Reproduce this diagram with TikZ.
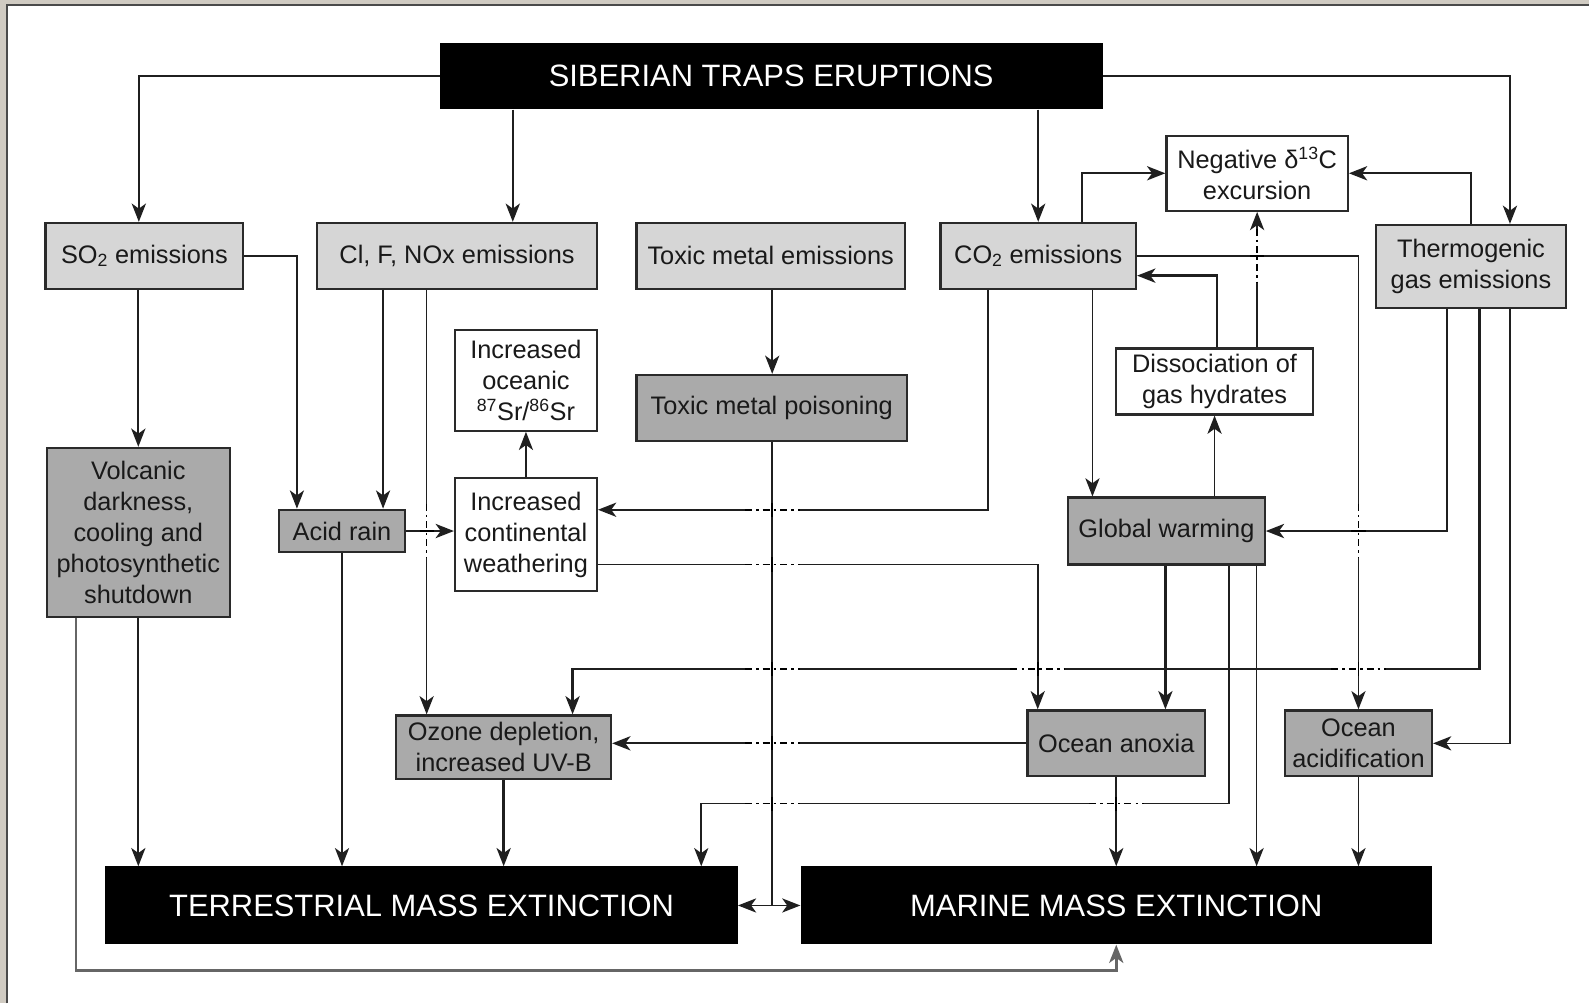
\documentclass[tikz,border=0pt]{standalone}
\usepackage{fontspec}
\setmainfont{Liberation Sans}
\usepackage{tikz}
\usetikzlibrary{arrows.meta,calc}
\definecolor{grisL}{HTML}{D6D6D6}
\definecolor{grisM}{HTML}{AAAAAA}
\definecolor{bordC}{HTML}{2A2A2A}
\definecolor{fondC}{HTML}{D0CBC2}
\definecolor{cadreC}{HTML}{4A4A4A}
\newcommand{\hsaut}[4]{%
  \fill[white] ({#1-27},{#2-4}) rectangle ({#1+27},{#2+4});
  \draw[line width=#3, dash pattern=on 7pt off 4pt on 2.5pt off 4pt] ({#1-27},#2) -- ({#1+27},#2);
  \draw[line width=#4] (#1,{#2-7}) -- (#1,{#2+7});}
\newcommand{\vsaut}[4]{%
  \fill[white] ({#1-4},{#2-27}) rectangle ({#1+4},{#2+27});
  \draw[line width=#3, dash pattern=on 7pt off 4pt on 2.5pt off 4pt] (#1,{#2-27}) -- (#1,{#2+27});
  \draw[line width=#4] ({#1-7},#2) -- ({#1+7},#2);}
\tikzset{
  boite/.style={rectangle, draw=bordC, line width=2.2pt, fill=#1, align=center, inner sep=0pt,
                text=black!90, font=\fontsize{25}{30.5}\selectfont},
  bande/.style={rectangle, fill=black, inner sep=0pt, text=white, font=\fontsize{30.5}{36}\selectfont},
  arr/.style={-{Stealth[length=18pt,width=14pt,inset=5pt]}, line width=2.3pt, draw=black!88},
  fin/.style={line width=1.6pt},
}

\begin{document}
\begin{tikzpicture}[x=1pt,y=-1pt]
    \useasboundingbox (0,0) rectangle (1568,990);
    \fill[fondC] (0,0) rectangle (1568,990);
    \fill[white] (7,5) rectangle (1568,990);
    \draw[cadreC, line width=2.5pt] (7,990) -- (7,5) -- (1568,5);

    \node[bande, minimum width=654pt, minimum height=66pt] (top) at (761,75) {SIBERIAN TRAPS ERUPTIONS};
    \node[boite=grisL, minimum width=195pt, minimum height=65pt] (so2) at (142.5,252.5) {SO\textsubscript{2} emissions};
    \node[boite=grisL, minimum width=276pt, minimum height=65pt] (clf) at (451,252.5) {Cl, F, NOx emissions};
    \node[boite=grisL, minimum width=265pt, minimum height=65pt] (toxe) at (760.5,252.5) {Toxic metal emissions};
    \node[boite=grisL, minimum width=193pt, minimum height=65pt] (co2) at (1024.5,252.5) {CO\textsubscript{2} emissions};
    \node[boite=white, minimum width=179pt, minimum height=74pt] (negc) at (1240.5,171) {Negative δ\textsuperscript{13}C\\excursion};
    \node[boite=grisL, minimum width=187pt, minimum height=82pt] (thermo) at (1451.5,263) {Thermogenic\\gas emissions};
    \node[boite=white, minimum width=140pt, minimum height=99pt] (sr) at (519,375.5) {Increased\\oceanic\\\textsuperscript{87}Sr/\textsuperscript{86}Sr};
    \node[boite=grisM, minimum width=267pt, minimum height=65pt] (toxp) at (761.5,402.5) {Toxic metal poisoning};
    \node[boite=white, minimum width=195pt, minimum height=65pt] (diss) at (1198.5,376.5) {Dissociation of\\gas hydrates};
    \node[boite=grisM, minimum width=181pt, minimum height=167pt] (volc) at (136.5,525.5) {Volcanic\\darkness,\\cooling and\\photosynthetic\\shutdown};
    \node[boite=grisM, minimum width=125pt, minimum height=42pt] (acid) at (337.5,524) {Acid rain};
    \node[boite=white, minimum width=140pt, minimum height=111pt] (weath) at (519,527.5) {Increased\\continental\\weathering};
    \node[boite=grisM, minimum width=194pt, minimum height=66pt] (gw) at (1151,524) {Global warming};
    \node[boite=grisM, minimum width=212pt, minimum height=63pt] (ozone) at (497,737.5) {Ozone depletion,\\increased UV-B};
    \node[boite=grisM, minimum width=175pt, minimum height=65pt] (anox) at (1101.5,733.5) {Ocean anoxia};
    \node[boite=grisM, minimum width=145pt, minimum height=65pt] (acidif) at (1340.5,733.5) {Ocean\\acidification};
    \node[bande, minimum width=624pt, minimum height=77pt] (terr) at (416,893.5) {TERRESTRIAL MASS EXTINCTION};
    \node[bande, minimum width=623pt, minimum height=77pt] (marine) at (1101.5,893.5) {MARINE MASS EXTINCTION};

    \draw[arr] (top.west) -| (so2.north -| 137,0);
    \draw[arr] (top.south -| 506,0) -- (clf.north -| 506,0);
    \draw[arr] (top.south -| co2.north) -- (co2.north);
    \draw[arr] (top.east) -| (thermo.north -| 1490,0);
    \draw[arr] (co2.north -| 1068,0) |- (negc.west);
    \draw[arr] (thermo.north) |- (negc.east);
    \draw[arr,fin] (diss.north -| negc.south) -- (negc.south);
    \draw[arr] (diss.north -| 1201,0) |- (co2.east |- 0,272);
    \draw[arr,fin] (co2.east) -| (acidif.north);
    \draw[arr,fin] (gw.north -| diss.south) -- (diss.south);
    \draw[arr,fin] (co2.south -| 1078,0) -- (gw.north -| 1078,0);
    \draw[arr] (co2.south -| 975,0) |- (weath.east |- 0,503);
    \draw[arr] (thermo.south -| 1428,0) |- (gw.east);
    \draw[arr] (thermo.south -| 1460,0) -- (1460,660) -| (ozone.north -| 565,0);
    \draw[arr,fin] (thermo.south -| 1490,0) |- (acidif.east);
    \draw[arr,fin] (so2.east) -| (acid.north -| 293,0);
    \draw[arr] (so2.south -| volc.north) -- (volc.north);
    \draw[arr,fin] (clf.south -| 378,0) -- (acid.north -| 378,0);
    \draw[arr,fin] (clf.south -| 421,0) -- (ozone.north -| 421,0);
    \draw[arr,fin] (toxe.south -| 762,0) -- (toxp.north -| 762,0);
    \draw[arr,fin] (toxp.south -| 762,0) |- (terr.east);
    \draw[arr,fin] (toxp.south -| 762,0) |- (marine.west);
    \draw[arr,fin] (weath.north) -- (sr.south);
    \draw[arr] (acid.east) -- (weath.west |- acid.east);
    \draw[arr,fin] (weath.east |- 0,557) -| (anox.north -| 1024,0);
    \draw[arr] (gw.south -| 1150,0) -- (anox.north -| 1150,0);
    \draw[arr,fin] (gw.south -| 1213,0) -- (1213,793) -| (terr.north -| 692,0);
    \draw[arr,fin] (gw.south -| 1240,0) -- (marine.north -| 1240,0);
    \draw[arr] (anox.west) -- (ozone.east |- anox.west);
    \draw[arr] (anox.south) -- (marine.north -| anox.south);
    \draw[arr,fin] (acidif.south) -- (marine.north -| acidif.south);
    \draw[arr] (volc.south) -- (terr.north -| volc.south);
    \draw[arr,fin] (acid.south) -- (terr.north -| acid.south);
    \draw[arr] (ozone.south) -- (terr.north -| ozone.south);
    \draw[arr,line width=2.8pt,draw=black!60] (volc.south -| 75,0) -- (75,958) -| (marine.south);

    \hsaut{762}{503}{2.3pt}{1.6pt}
    \hsaut{762}{557}{1.6pt}{1.6pt}
    \hsaut{762}{660}{2.3pt}{1.6pt}
    \hsaut{1024}{660}{2.3pt}{1.6pt}
    \hsaut{1340.5}{660}{2.3pt}{1.6pt}
    \hsaut{762}{733.5}{2.3pt}{1.6pt}
    \hsaut{762}{793}{1.6pt}{1.6pt}
    \hsaut{1101.5}{793}{1.6pt}{2.3pt}
    \vsaut{421}{524}{1.6pt}{2.3pt}
    \vsaut{1340.5}{524}{1.6pt}{2.3pt}
    \vsaut{1240.5}{252.5}{1.6pt}{1.6pt}
  \end{tikzpicture}
\end{document}
